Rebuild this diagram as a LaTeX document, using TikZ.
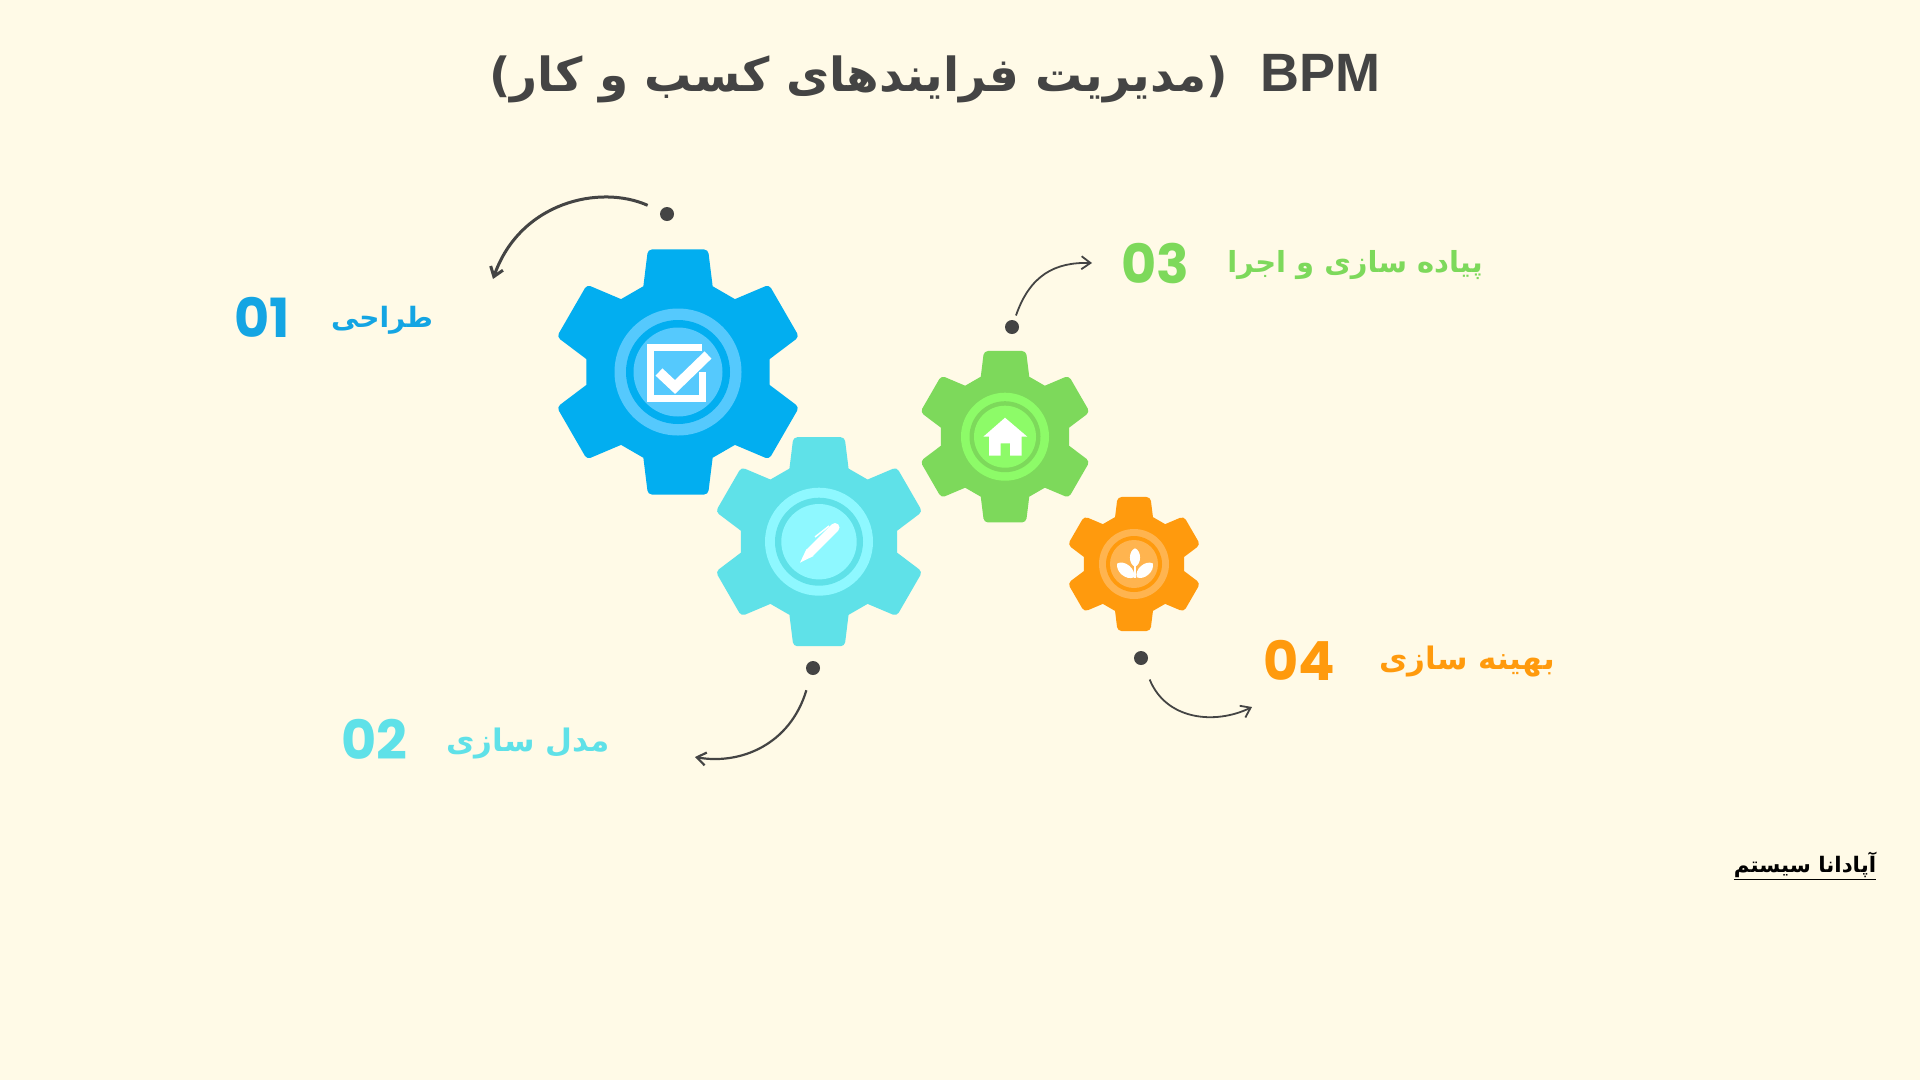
\documentclass[tikz,border=0pt]{standalone}
\usepackage{fontspec}
\usetikzlibrary{arrows.meta}
\setmainfont{Liberation Sans}
\newfontfamily\farsifont[Script=Arabic]{DejaVu Sans}
\newfontfamily\numfont{Poppins}
\TeXXeTstate=1
\definecolor{paper}{HTML}{FFFAE7}
\definecolor{inkgray}{HTML}{444444}
\definecolor{gearblue}{HTML}{02AEF0}
\definecolor{ringblue}{HTML}{55C9FD}
\definecolor{textblue}{HTML}{14A5E3}
\definecolor{gearcyan}{HTML}{5FE1E8}
\definecolor{ringcyan}{HTML}{8EF8FF}
\definecolor{gearlime}{HTML}{7DD95B}
\definecolor{ringlime}{HTML}{8DFB68}
\definecolor{gearorange}{HTML}{FF9A0D}
\definecolor{ringorange}{HTML}{FFB44F}
\newcommand{\fa}[1]{\farsifont\bfseries\beginR #1\endR}
\newcommand{\drawgear}[9]{
    \begin{scope}[shift={(#2,#3)}]
        \pgfmathsetmacro{\rbase}{.755*#4}
        \pgfmathsetmacro{\rtip}{1.03*#4}
        \fill[#5] (68:\rbase) [rounded corners=4] -- (76.2:\rtip) -- (103.8:\rtip) [sharp corners] -- (112:\rbase)
            foreach \a in {150,210,...,390} {
                -- ({\a-22}:\rbase) [rounded corners=4] -- ({\a-13.8}:\rtip) -- ({\a+13.8}:\rtip) [sharp corners] -- ({\a+22}:\rbase)
            } -- cycle;
        \fill[#6] (0,0) circle (#7);
        \fill[#5] (0,0) circle (#8);
    \end{scope}
    \node[circle, fill=#6, inner sep=0pt, minimum size=2*#9] (#1) at (#2,#3) {};
}
\begin{document}
\begin{tikzpicture}[
            x=1pt, y=-1pt,
            dotnode/.style={circle, fill=inkgray, inner sep=0pt, minimum size=14pt},
            linkarrow/.style={-{Straight Barb[length=9pt,width=13pt]}, draw=inkgray, line width=2.2pt},
            numtext/.style={font=\numfont\fontsize{54}{60}\selectfont\bfseries, inner sep=0pt},
            nametext/.style={inner sep=0pt},
            icon/.style={fill=white, draw=none},
            iconline/.style={draw=white, line join=miter}
        ]
        \fill[paper] (0,0) rectangle (1920,1080);
        \useasboundingbox (0,0) rectangle (1920,1080);

        \node[inner sep=0pt, text=inkgray, font=\fontsize{47}{60}\selectfont\bfseries] (title) at (935,79)
            {\farsifont\beginR\beginL{\rmfamily\fontsize{54}{60}\selectfont BPM}\endL\ \ (مدیریت فرایندهای کسب و کار)\endR};

        \drawgear{gearone}{678}{372}{122.5}{gearblue}{ringblue}{63.5}{52}{44.5}
        \drawgear{geartwo}{819}{541.7}{104.5}{gearcyan}{ringcyan}{54}{44}{37.7}
        \drawgear{gearthree}{1005}{436.7}{85.7}{gearlime}{ringlime}{44}{35.5}{31}
        \drawgear{gearfour}{1134}{564}{67}{gearorange}{ringorange}{35}{28}{24}

        \draw[iconline, line width=7pt] (702,347) -- (650,347) -- (650,398) -- (702,398) -- (702,372);
        \draw[iconline, line width=10pt] (659,372) -- (675,387) -- (708,355);

        \fill[icon] (800,562.7) -- (806.5,549) -- (813.5,556) -- cycle;
        \draw[white, line width=9pt, line cap=round] (810,552.5) -- (835,527.5);
        \draw[white, line width=1.5pt] (815,537) -- (829,526);

        \fill[icon] (1005,417.7) -- (1027.3,436.7) -- (1021.7,436.7) -- (1021.7,455.7) -- (1010,455.7)
            -- (1010,443.3) -- (1000.7,443.3) -- (1000.7,455.7) -- (989,455.7) -- (989,436.7) -- (983.3,436.7) -- cycle;

        \fill[icon] (1135,548.3) to[bend left=70] (1135,566.7) to[bend left=70] (1135,548.3);
        \fill[icon] (1117.3,563.3) to[bend left=65] (1134,577.3) to[bend left=65] (1117.3,563.3);
        \fill[icon] (1152.7,563.3) to[bend left=65] (1136.7,577.3) to[bend left=65] (1152.7,563.3);
        \draw[white, line width=1.5pt] (1135,566) -- (1135,578);

        \node[dotnode] (dotone) at (667,214) {};
        \node[dotnode] (dottwo) at (813,668) {};
        \node[dotnode] (dotthree) at (1012,327) {};
        \node[dotnode] (dotfour) at (1141,658) {};

        \coordinate (endone) at (493,279);
        \coordinate (endtwo) at (695,757);
        \coordinate (endthree) at (1092,263);
        \coordinate (endfour) at (1252,707);

        \draw[linkarrow, line width=3pt, shorten <=14pt] (dotone) .. controls (600,184) and (520,202) .. (endone);
        \draw[linkarrow, shorten <=16pt] (dottwo) .. controls (790,745) and (740,765) .. (endtwo);
        \draw[linkarrow, line width=1.8pt, shorten <=5pt] (dotthree) .. controls (1030,275) and (1055,262) .. (endthree);
        \draw[linkarrow, line width=1.8pt, shorten <=16pt] (dotfour) .. controls (1166,720) and (1215,725) .. (endfour);

        \node[numtext, text=textblue] (numone) at (262,317) {01};
        \node[nametext, text=textblue, font=\fontsize{28}{36}\selectfont] (nameone) at (382,320.5) {\fa{طراحی}};
        \node[numtext, text=gearcyan] (numtwo) at (374.5,739) {02};
        \node[nametext, text=gearcyan, font=\fontsize{31}{36}\selectfont] (nametwo) at (528,743) {\fa{مدل سازی}};
        \node[numtext, text=gearlime] (numthree) at (1155,263) {03};
        \node[nametext, text=gearlime, font=\fontsize{29}{36}\selectfont] (namethree) at (1355,265) {\fa{پیاده سازی و اجرا}};
        \node[numtext, text=gearorange] (numfour) at (1299.5,660) {04};
        \node[nametext, text=gearorange, font=\fontsize{31}{36}\selectfont] (namefour) at (1467,662) {\fa{بهینه سازی}};

        \node[inner sep=0pt, text=black, font=\fontsize{21.4}{30}\selectfont] (brand) at (1805,866)
            {\underline{\fa{آپادانا سیستم}}};
\end{tikzpicture}
\end{document}
